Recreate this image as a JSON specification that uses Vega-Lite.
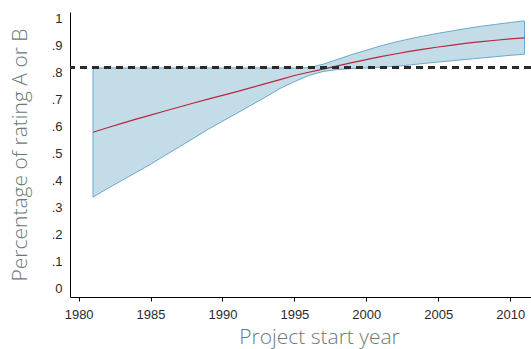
{
  "$schema": "https://vega.github.io/schema/vega-lite/v6.json",
  "width": 461,
  "height": 285,
  "autosize": "none",
  "padding": {"left": 70, "top": 12, "right": 0, "bottom": 52},
  "background": "white",
  "config": {
    "view": {"stroke": null},
    "font": "Liberation Sans",
    "axis": {"grid": false, "domainColor": "#000000", "domainWidth": 1, "labelFont": "Liberation Sans", "labelFontSize": 13, "labelColor": "#2a2a2a", "titleFont": "Open Sans", "titleFontWeight": 300, "titleColor": "#687b77", "titleFontSize": 21},
    "axisY": {"labelOverlap": false, "ticks": false, "labelPadding": 8}
  },
  "data": {"values": [
    {"year": 1981, "mean": 0.579, "lo": 0.338, "hi": 0.818},
    {"year": 1982, "mean": 0.596, "lo": 0.370, "hi": 0.818},
    {"year": 1983, "mean": 0.612, "lo": 0.400, "hi": 0.818},
    {"year": 1984, "mean": 0.628, "lo": 0.430, "hi": 0.818},
    {"year": 1985, "mean": 0.643, "lo": 0.460, "hi": 0.818},
    {"year": 1986, "mean": 0.658, "lo": 0.493, "hi": 0.818},
    {"year": 1987, "mean": 0.673, "lo": 0.525, "hi": 0.818},
    {"year": 1988, "mean": 0.688, "lo": 0.557, "hi": 0.818},
    {"year": 1989, "mean": 0.702, "lo": 0.590, "hi": 0.818},
    {"year": 1990, "mean": 0.716, "lo": 0.620, "hi": 0.818},
    {"year": 1991, "mean": 0.730, "lo": 0.650, "hi": 0.818},
    {"year": 1992, "mean": 0.745, "lo": 0.680, "hi": 0.818},
    {"year": 1993, "mean": 0.760, "lo": 0.710, "hi": 0.818},
    {"year": 1994, "mean": 0.775, "lo": 0.742, "hi": 0.818},
    {"year": 1995, "mean": 0.790, "lo": 0.767, "hi": 0.818},
    {"year": 1996, "mean": 0.802, "lo": 0.790, "hi": 0.819},
    {"year": 1997, "mean": 0.814, "lo": 0.805, "hi": 0.832},
    {"year": 1998, "mean": 0.826, "lo": 0.812, "hi": 0.850},
    {"year": 1999, "mean": 0.838, "lo": 0.816, "hi": 0.868},
    {"year": 2000, "mean": 0.849, "lo": 0.818, "hi": 0.884},
    {"year": 2001, "mean": 0.860, "lo": 0.821, "hi": 0.900},
    {"year": 2002, "mean": 0.870, "lo": 0.824, "hi": 0.914},
    {"year": 2003, "mean": 0.880, "lo": 0.829, "hi": 0.926},
    {"year": 2004, "mean": 0.888, "lo": 0.835, "hi": 0.937},
    {"year": 2005, "mean": 0.896, "lo": 0.840, "hi": 0.947},
    {"year": 2006, "mean": 0.903, "lo": 0.845, "hi": 0.956},
    {"year": 2007, "mean": 0.910, "lo": 0.850, "hi": 0.965},
    {"year": 2008, "mean": 0.916, "lo": 0.855, "hi": 0.973},
    {"year": 2009, "mean": 0.921, "lo": 0.860, "hi": 0.980},
    {"year": 2010, "mean": 0.926, "lo": 0.865, "hi": 0.987},
    {"year": 2011, "mean": 0.930, "lo": 0.869, "hi": 0.993}
  ]},
  "layer": [
    {
      "mark": {"type": "area", "fill": "#c3dce7", "fillOpacity": 1, "stroke": "#6aa9cc", "strokeWidth": 1},
      "encoding": {
        "x": {
          "field": "year", "type": "quantitative",
          "scale": {"domain": [1979.4, 2011.45], "nice": false, "zero": false},
          "axis": {"values": [1980, 1985, 1990, 1995, 2000, 2005, 2010], "format": "d", "tickSize": 4, "tickColor": "#000000", "labelPadding": 7, "title": "Project start year", "titlePadding": 5, "titleX": 249}
        },
        "y": {
          "field": "lo", "type": "quantitative",
          "scale": {"domain": [-0.033, 1.026], "nice": false, "zero": false},
          "axis": {"tickCount": 11, "labelOverlap": false, "labelExpr": "datum.value < 0.05 ? '0' : datum.value > 0.95 ? '1' : '.' + round(datum.value * 10)", "title": "Percentage of rating A or B", "titlePadding": 21}
        },
        "y2": {"field": "hi"}
      }
    },
    {
      "mark": {"type": "line", "color": "#b5293d", "strokeWidth": 1.2},
      "encoding": {
        "x": {"field": "year", "type": "quantitative"},
        "y": {"field": "mean", "type": "quantitative", "axis": {"tickCount": 11, "labelOverlap": false}}
      }
    },
    {
      "mark": {"type": "rule", "color": "#2b2b2b", "strokeWidth": 2, "strokeDash": [7, 5]},
      "encoding": {"y": {"datum": 0.82, "type": "quantitative", "axis": {"tickCount": 11, "labelOverlap": false}}}
    }
  ]
}
